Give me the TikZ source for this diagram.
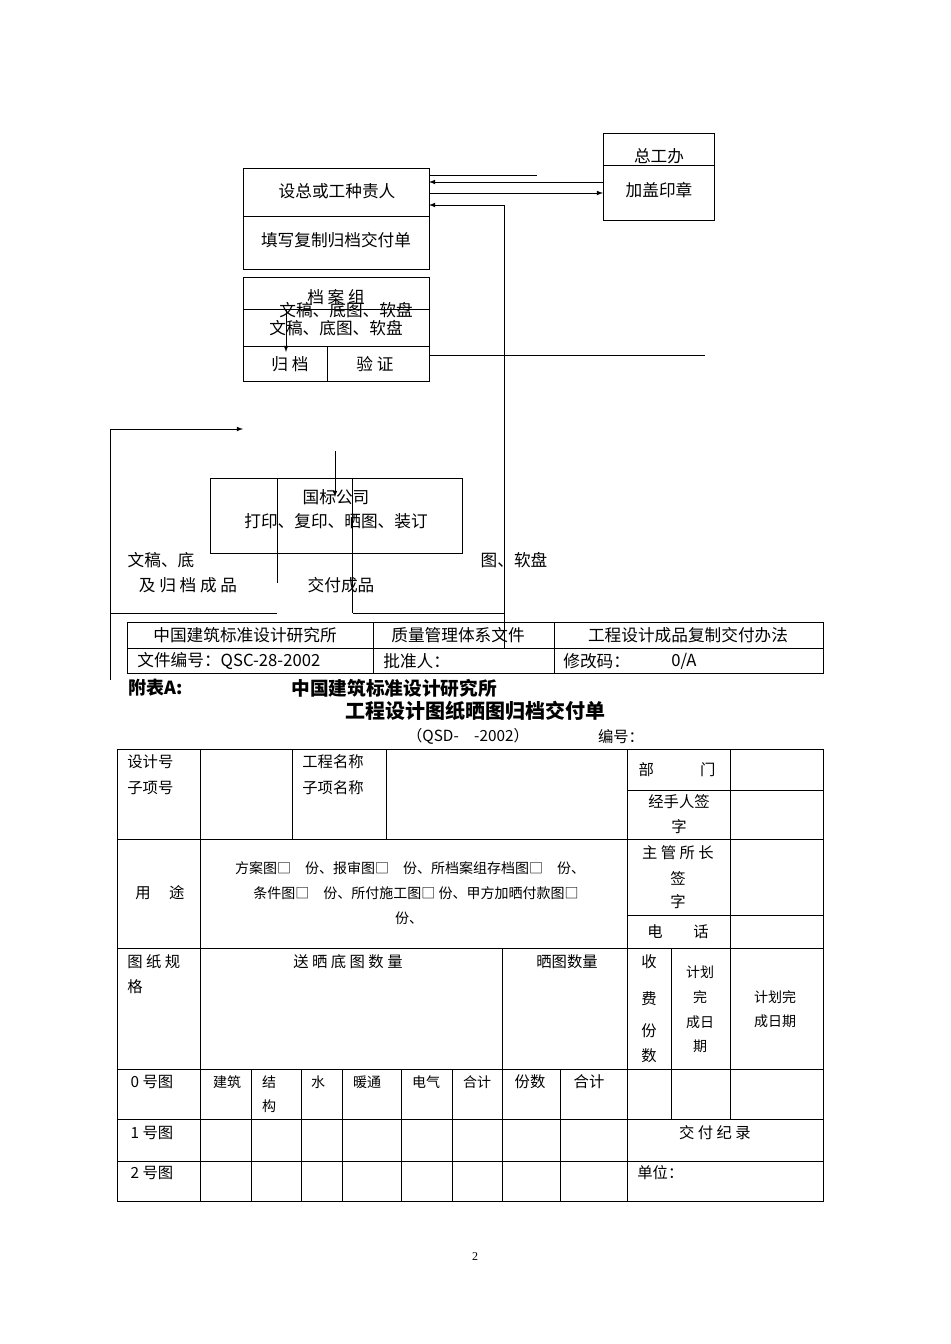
\documentclass[tikz,border=0pt]{standalone}
\usepackage{fontspec}
\setmainfont{Liberation Serif}
\newfontfamily\cjk{Noto Sans CJK SC}
\usetikzlibrary{calc}
\tikzset{lbl/.style={font=\cjk\fontsize{12.5}{14}\selectfont,inner sep=0pt},
  cell/.style={font=\cjk\fontsize{11.5}{13}\selectfont,inner sep=0pt},
  small cell/.style={cell,font=\cjk\fontsize{10.5}{12}\selectfont},
  flow/.style={-latex},thin line/.style={line width=0.6pt}}

\begin{document}
\begin{tikzpicture}[x=0.75pt,y=-0.75pt,thin line]
\useasboundingbox (0,0) rectangle (950,1344);
% flow chart
\draw (243,168) rectangle (429,269) (243,216) -- (429,216);
\node[lbl] (sz) at (337,191) {设总或工种责人};
\node[lbl] (tx) at (336,240) {填写复制归档交付单};
\draw (603,133) rectangle (714,220) (603,165) -- (714,165);
\node[lbl] (zgb) at (659,156) {总工办};
\node[lbl] (gz) at (659,190) {加盖印章};
\coordinate (r1) at (429,175); \coordinate (r1e) at (537,175);
\draw (r1) -- (r1e);
\draw[flow] (603,182) -- (429,182);
\draw[flow] (429,193) -- (603,193);
\coordinate (v1) at (504,648);
\draw[flow] (v1) |- (429,205);
\draw (243,277) rectangle (429,381) (243,309) -- (429,309) (243,346) -- (429,346) (327,346) -- (327,381);
\node[lbl] (dag) at (336,297) {档 案 组};
\node[lbl] (wg1) at (346,310) {文稿、底图、软盘};
\node[lbl] (wg2) at (336,328) {文稿、底图、软盘};
\node[lbl] (gd) at (290,364) {归 档};
\node[lbl] (yz) at (375,364) {验 证};
\draw[flow] (286,309) -- (286,352);
\draw (429,355) -- (705,355);
\coordinate (lb) at (110,680);
\draw[flow] (lb) |- (243,429);
\draw (110,613) -- (277,613) (353,613) -- (504,613);
\draw (210,478) rectangle (462,553);
\node[lbl] (gb) at (336,497) {国标公司};
\node[lbl] (dy) at (336,521) {打印、复印、晒图、装订};
\draw[flow] (335,451) -- (335,497);
\draw (277,478) -- (277,583) (352,478) -- (352,613);
\node[lbl] (t1) at (161,560) {文稿、底};
\node[lbl] (t2) at (514,560) {图、软盘};
\node[lbl] (t3) at (188,585) {及 归 档 成 品};
\node[lbl] (t4) at (341,585) {交付成品};
% header
\draw (127,622) rectangle (823,673) (127,648) -- (823,648) (373,622) -- (373,673) (554,622) -- (554,673);
\node[lbl] at (245,635) {中国建筑标准设计研究所};
\node[lbl] at (458,635) {质量管理体系文件};
\node[lbl] at (688,635) {工程设计成品复制交付办法};
\node[lbl,anchor=west] at (137,661) {文件编号：QSC-28-2002};
\node[lbl,anchor=west] at (383,661) {批准人：};
\node[lbl,anchor=west] at (563,661) {修改码：};
\node[lbl] at (684,661) {0/A};
\node[lbl,anchor=west,font=\cjk\bfseries\fontsize{13.5}{15}\selectfont] at (128,688) {附表A:};
\node[lbl,font=\cjk\bfseries\fontsize{14}{15}\selectfont] at (394,688) {中国建筑标准设计研究所};
\node[lbl,font=\cjk\bfseries\fontsize{15}{16}\selectfont] at (475,711) {工程设计图纸晒图归档交付单};
\node[cell] at (468,736) {（QSD-\quad -2002）};
\node[cell] at (621,737) {编号：};
% form table
\draw (117,749) rectangle (823,1201);
\foreach \y in {839,948,1069,1119,1161} \draw (117,\y) -- (823,\y);
\draw (200,749) -- (200,1201) (627,749) -- (627,1201);
\draw (292,749) -- (292,839) (386,749) -- (386,839);
\draw (730,749) -- (730,1119) (627,790) -- (823,790) (627,915) -- (823,915);
\draw (502,948) -- (502,1201) (671,948) -- (671,1119);
\foreach \x in {251,301,342,401,452,560} \draw (\x,1069) -- (\x,1201);
\node[cell,anchor=west] at (127,762) {设计号};
\node[cell,anchor=west] at (127,788) {子项号};
\node[cell,anchor=west] at (302,762) {工程名称};
\node[cell,anchor=west] at (302,788) {子项名称};
\node[cell] at (677,770) {部\hspace{3em}门};
\node[cell] at (679,802) {经手人签};
\node[cell] at (679,827) {字};
\node[cell] at (678,853) {主 管 所 长};
\node[cell] at (678,878) {签};
\node[cell] at (678,902) {字};
\node[cell] at (678,932) {电\hspace{2em}话};
\node[cell] at (160,893) {用\hspace{1.2em}途};
\node[small cell] at (410,868) {方案图□\quad 份、报审图□\quad 份、所档案组存档图□\quad 份、};
\node[small cell] at (416,893) {条件图□\quad 份、所付施工图□\ 份、甲方加晒付款图□};
\node[small cell] at (409,918) {份、};
\node[cell,anchor=west] at (127,962) {图 纸 规};
\node[cell,anchor=west] at (127,987) {格};
\node[cell] at (348,962) {送 晒 底 图 数 量};
\node[cell] at (567,962) {晒图数量};
\foreach \t/\y in {收/962,费/999,份/1031,数/1056} \node[cell] at (649,\y) {\t};
\foreach \t/\y in {计划/972,完/997,成日/1022,期/1046} \node[small cell] at (700,\y) {\t};
\node[small cell] at (775,997) {计划完};
\node[small cell] at (775,1021) {成日期};
\node[cell] at (152,1082) {0 号图};
\foreach \t/\x in {建筑/227,结/269,水/318,暖通/367,电气/426,合计/477} \node[small cell] at (\x,1082) {\t};
\node[small cell] at (269,1106) {构};
\node[cell] at (530,1082) {份数};
\node[cell] at (589,1082) {合计};
\node[cell] at (152,1133) {1 号图};
\node[cell] at (715,1133) {交 付 纪 录};
\node[cell] at (152,1173) {2 号图};
\node[cell,anchor=west] at (637,1173) {单位：};
\node[cell,font=\fontsize{9}{10}\selectfont] at (475,1257) {2};
\end{tikzpicture}
\end{document}
